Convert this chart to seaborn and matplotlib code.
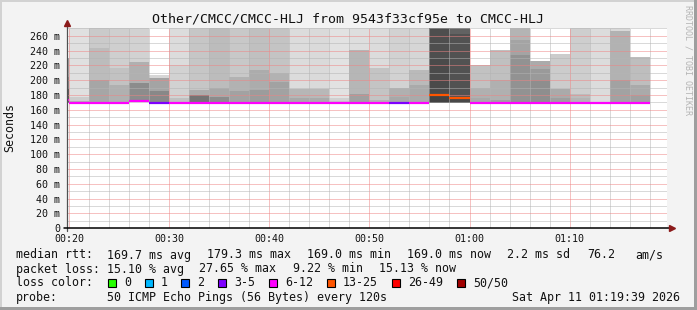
import numpy as np
import pandas as pd
import matplotlib
matplotlib.use("Agg")
import matplotlib.pyplot as plt
from matplotlib.patches import Rectangle
import seaborn as sns

# ---------------- data ----------------
col_start = ["00:18", "00:20", "00:22", "00:24", "00:26", "00:28", "00:30", "00:32",
             "00:34", "00:36", "00:38", "00:40", "00:42", "00:44", "00:46", "00:48",
             "00:50", "00:52", "00:54", "00:56", "00:58", "01:00", "01:02", "01:04",
             "01:06", "01:08", "01:10", "01:12", "01:14", "01:16"]
median_ms = [174.0, 169.5, 169.5, 169.5, 171.5, 169.5, 169.5, 169.5, 169.5, 169.5,
             169.5, 169.5, 169.5, 169.5, 169.5, 169.5, 169.5, 169.5, 169.5, 180.0,
             176.5, 169.5, 169.5, 169.5, 169.5, 169.5, 169.5, 169.5, 169.5, 169.5]
loss_count = [8, 8, 8, 8, 8, 4, 8, 8, 8, 8, 8, 8, 8, 8, 8, 8, 8, 4, 8, 14,
              14, 8, 8, 8, 8, 8, 8, 8, 8, 8]
smoke_min = [169.0, 169.0, 169.0, 169.0, 170.5, 169.0, 169.0, 169.0, 169.0, 169.0,
             169.0, 169.0, 169.0, 169.0, 169.0, 169.0, 169.0, 169.0, 169.0, 169.0,
             169.0, 169.0, 169.0, 169.0, 169.0, 169.0, 169.0, 169.0, 169.0, 169.0]
smoke_low = [190, 172, 200, 194, 196, 185, 176, 180, 177, 185, 187, 198, 176, 176, 172,
             182, 173, 178, 194, 180, 176, 176, 173, 234, 200, 176, 176, 170.5, 200, 180]
smoke_mid = [205, 178, 243, 216, 225, 203, 220, 187, 190, 205, 214, 210, 188, 188, 176,
             241, 216, 190, 214, 230, 262, 190, 200, 255, 215, 188, 182, 171, 267, 194]
smoke_max = [230, 271, 271, 271, 270, 207, 271, 271, 271, 271, 271, 271, 271, 271, 271,
             271, 271, 271, 271, 271, 271, 221, 241, 271, 226, 235, 271, 271, 271, 231]

# smoke density shades (style)
shade_top = ["a4", "e0", "ca", "cf", "d2", "d6", "dc", "c6", "bc", "c8", "c0", "c4", "dc",
             "da", "e2", "de", "dc", "d2", "d6", "4e", "62", "c2", "c0", "b4", "ab", "cc",
             "ce", "dc", "d8", "be"]
shade_mid = ["8a", "cc", "bc", "c2", "b0", "a4", "d2", "ac", "a8", "b2", "ac", "b2", "b6",
             "b8", "d0", "b6", "c4", "b0", "ba", "4a", "52", "b0", "b0", "a4", "9a", "aa",
             "bc", "dc", "b2", "aa"]
shade_low = ["60", "b0", "a6", "b0", "8c", "88", "c0", "74", "8c", "a2", "9c", "a2", "a8",
             "aa", "c4", "a0", "b2", "a8", "aa", "42", "48", "a8", "a0", "92", "8e", "9e",
             "b4", "dc", "a2", "a0"]

loss_bins = ["0", "1", "2", "3-5", "6-12", "13-25", "26-49", "50/50"]
loss_colors = ["#26ff00", "#00b8ff", "#0059ff", "#7e00ff", "#ff00ff", "#ff5500",
               "#ff0000", "#a10000"]

title = "Other/CMCC/CMCC-HLJ from 9543f33cf95e to CMCC-HLJ"
x_ticklabels = ["00:20", "00:30", "00:40", "00:50", "01:00", "01:10"]
rtt_stats = ["169.7 ms avg", "179.3 ms max", "169.0 ms min", "169.0 ms now",
             "2.2 ms sd", "76.2", "am/s"]
loss_stats = ["15.10 % avg", "27.65 % max", "9.22 % min", "15.13 % now"]
probe_text = "50 ICMP Echo Pings (56 Bytes) every 120s"
stamp_text = "Sat Apr 11 01:19:39 2026"

# ---------------- helpers ----------------
def to_min(s):
    h, m = s.split(":")
    return (int(h) * 60 + int(m)) - 20

def bucket(n):
    if n == 0: return "0"
    if n == 1: return "1"
    if n == 2: return "2"
    if n <= 5: return "3-5"
    if n <= 12: return "6-12"
    if n <= 25: return "13-25"
    if n <= 49: return "26-49"
    return "50/50"

starts = np.array([to_min(s) for s in col_start], dtype=float)
W, H = 697, 310

sns.set_style("white")
plt.rcParams["font.family"] = ["DejaVu Sans Mono", "DejaVu Sans"]

fig = plt.figure(figsize=(W / 100, H / 100), dpi=100)
fig.patch.set_facecolor("#f3f3f3")

def fx(px): return px / W
def fy(py): return 1 - py / H

ax_l, ax_r, ax_t, ax_b = 66.7, 667.0, 27.7, 228.3
ax = fig.add_axes([fx(ax_l), fy(ax_b), (ax_r - ax_l) / W, (ax_b - ax_t) / H])
ax.set_facecolor("white")
ax.set_xlim(-0.26, 59.74)
ax.set_ylim(0, 271)

# smoke
def band(lo, hi, shades):
    lo = np.array(lo, dtype=float); hi = np.array(hi, dtype=float)
    ax.bar(starts, hi - lo, bottom=lo, width=2.0, align="edge",
           color=["#" + s * 3 for s in shades], linewidth=0, antialiased=False, zorder=1)

band(smoke_min, smoke_max, shade_top)
band(smoke_min, smoke_mid, shade_mid)
band(smoke_min, smoke_low, shade_low)

# median line coloured by loss
rows = []
for i, (s, m, n) in enumerate(zip(starts, median_ms, loss_count)):
    rows.append(dict(col=i, t=s, median=m, loss=bucket(n)))
    rows.append(dict(col=i, t=s + 2.0, median=m, loss=bucket(n)))
dfm = pd.DataFrame(rows)
sns.lineplot(data=dfm, x="t", y="median", hue="loss", units="col", estimator=None,
             palette=dict(zip(loss_bins, loss_colors)), linewidth=1.6, legend=False, ax=ax)
for ln in ax.lines:
    ln.set_zorder(3)
    ln.set_solid_capstyle("butt")
    ln.set_clip_on(True)

# grid
xmaj = np.arange(0, 60, 10)
ymaj = np.arange(0, 261, 20)
ax.set_xticks(xmaj)
ax.set_xticks([v for v in range(0, 60, 2) if v % 10], minor=True)
ax.set_yticks(ymaj)
ax.set_yticks([v for v in range(0, 271, 10) if v % 20], minor=True)
ax.set_xticklabels(x_ticklabels)
ax.set_yticklabels([f"{v} m" if v else "0" for v in ymaj])
ax.grid(which="minor", color="#b4b4b4", linewidth=0.72, linestyle=(0, (1, 1)))
ax.grid(which="major", color="#ee8484", linewidth=0.72, linestyle=(0, (1, 1)))
ax.set_axisbelow(False)
ax.tick_params(which="both", length=1.5, width=0.7, color="#606060",
               labelsize=7.2, labelcolor="#111111")
ax.tick_params(axis="y", which="both", pad=3.2)
ax.tick_params(axis="x", which="both", pad=2.5)
ax.set_xlabel(""); ax.set_ylabel("")
for sp in ax.spines.values():
    sp.set_visible(False)

# axes with arrows
ax.plot([0, 0], [-0.012, 1.02], transform=ax.transAxes, color="#505050",
        lw=0.9, clip_on=False, zorder=4)
ax.plot([-0.005, 1.005], [0, 0], transform=ax.transAxes, color="black",
        lw=1.1, clip_on=False, zorder=4)
ax.plot([0], [1.025], marker="^", ms=4, color="#8b1a1a", transform=ax.transAxes,
        clip_on=False, zorder=5)
ax.plot([1.008], [0], marker=">", ms=4, color="#8b1a1a", transform=ax.transAxes,
        clip_on=False, zorder=5)

# texts
fs = 8.4
fig.text(fx(348), fy(19.5), title, ha="center", va="center", fontsize=9.5, color="#111111")
fig.text(fx(10), fy(128), "Seconds", rotation=90, ha="center", va="center",
         fontsize=fs, color="#111111")
fig.text(fx(688), fy(5), "RRDTOOL / TOBI OETIKER", rotation=270, ha="center", va="top",
         fontsize=6.0, color="#b4b4b4")

def row(py, items):
    for px, s in items:
        fig.text(fx(px), fy(py), s, ha="left", va="baseline", fontsize=fs, color="#111111")

row(258.5, [(16, "median rtt:")] + list(zip([107, 207, 307, 407, 507, 587, 635], rtt_stats)))
row(272.5, [(16, "packet loss:")] + list(zip([107, 199, 293, 379], loss_stats)))
label_x = [124, 161, 197, 234, 285, 343, 408, 473]
row(286.5, [(16, "loss color:")] + list(zip(label_x, loss_bins)))
row(300.5, [(16, "probe:"), (107, probe_text)])
fig.text(fx(680), fy(300.5), stamp_text, ha="right", va="baseline", fontsize=fs, color="#111111")

for px, c in zip(label_x, loss_colors):
    fig.patches.append(Rectangle((fx(px - 16), fy(286.5)), 8 / W, 8 / H,
                                 transform=fig.transFigure,
                                 facecolor=c, edgecolor="black", linewidth=0.8))

# frame shading
fig.patches.append(Rectangle((0, fy(2)), 1, 2 / H, transform=fig.transFigure,
                             facecolor="#d2d2d2", edgecolor="none"))
fig.patches.append(Rectangle((0, 0), 2 / W, 1, transform=fig.transFigure,
                             facecolor="#d2d2d2", edgecolor="none"))
fig.patches.append(Rectangle((0, 0), 1, 3 / H, transform=fig.transFigure,
                             facecolor="#9e9e9e", edgecolor="none"))
fig.patches.append(Rectangle((fx(694), 0), 3 / W, 1, transform=fig.transFigure,
                             facecolor="#9e9e9e", edgecolor="none"))

fig.savefig("out.png", dpi=100, facecolor=fig.get_facecolor())
